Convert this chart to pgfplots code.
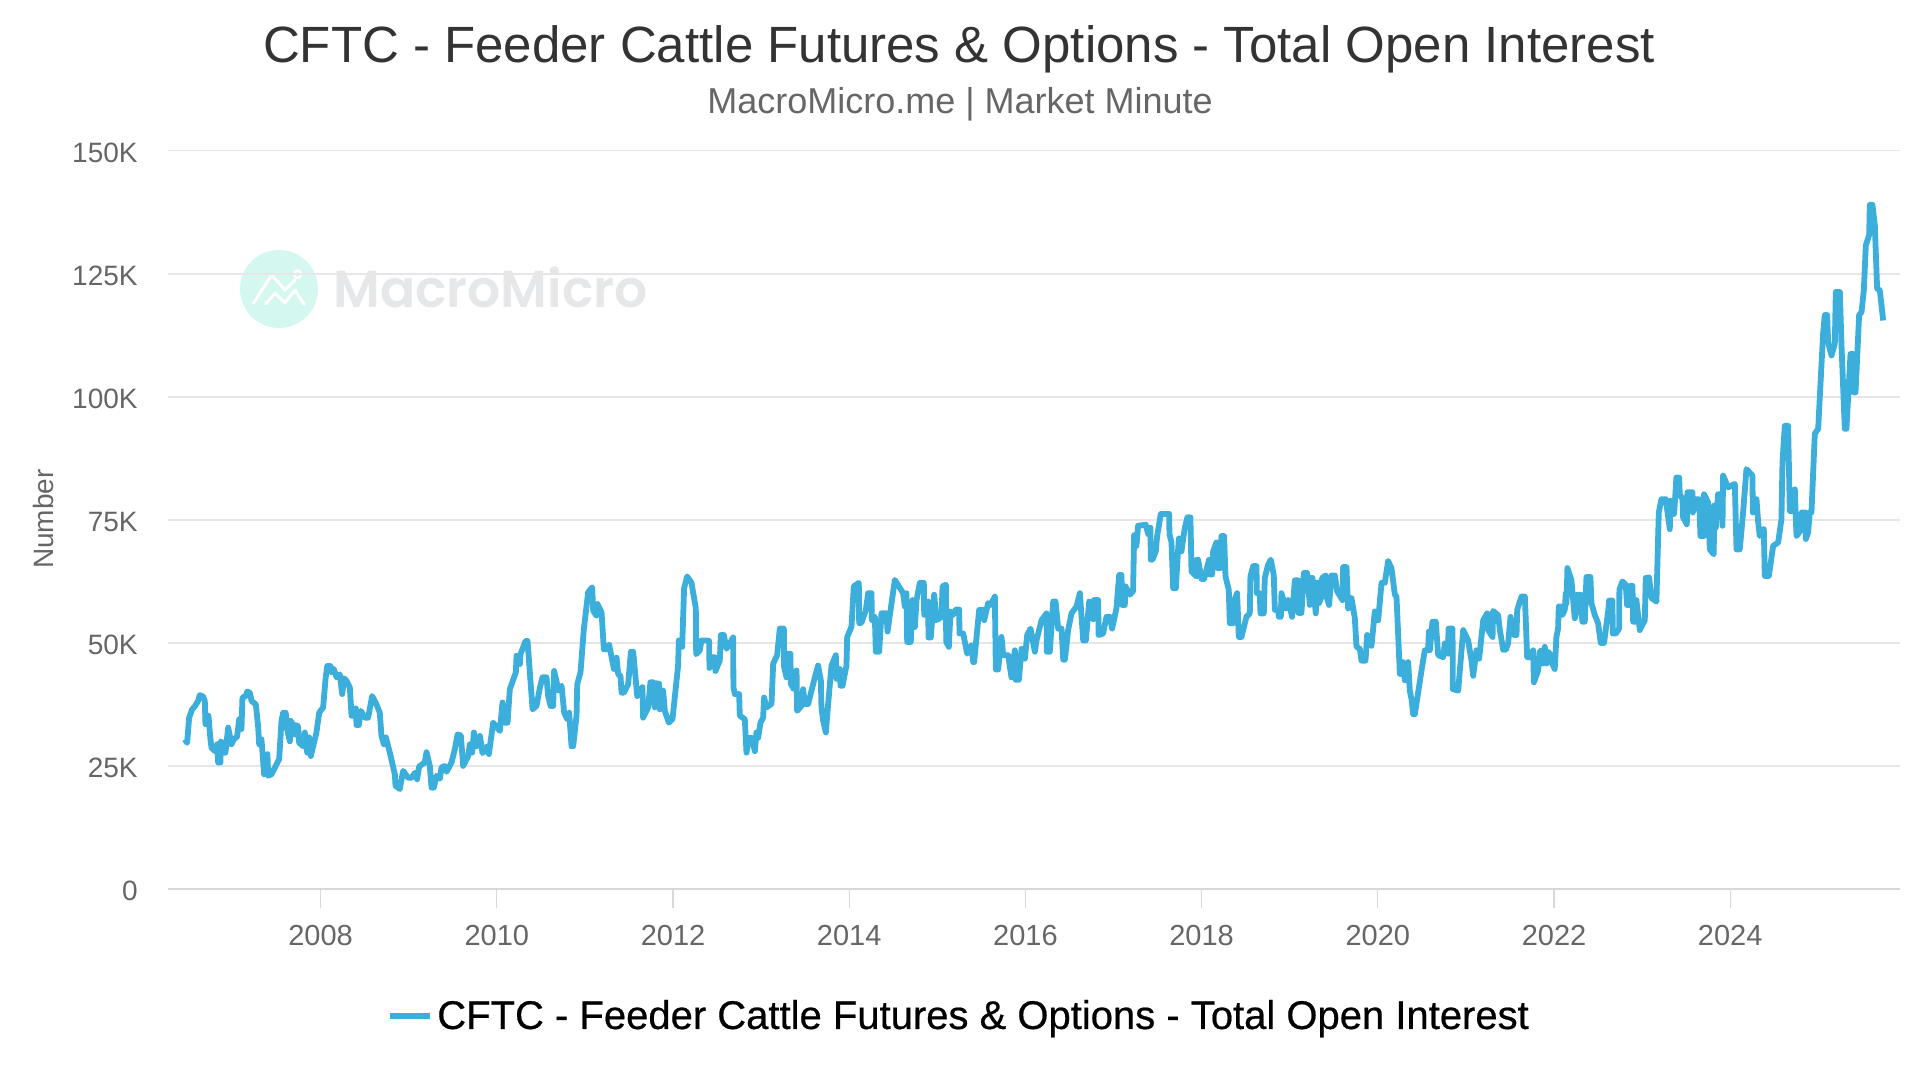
\documentclass[border=0pt]{standalone}
\usepackage{pgfplots}
\usepackage{pgfplotstable}
\usepackage{fontspec}
\pgfplotsset{compat=1.18}
\setmainfont{Liberation Sans}
\newfontfamily\wmfont{Poppins}[BoldFont=Poppins SemiBold]
\newfontfamily\legfont{Liberation Sans}[FakeBold=0.5]

\definecolor{series}{HTML}{3CAEDB}
\definecolor{gridc}{HTML}{E6E6E6}
\definecolor{axisc}{HTML}{D8D8D8}
\definecolor{labelc}{HTML}{666666}
\definecolor{titlec}{HTML}{333333}
\definecolor{wmcircle}{HTML}{D4F7F0}
\definecolor{wmtext}{HTML}{E6E7E9}

% year, open interest in thousands
\pgfplotstableread{
year val
2006.459 30.4
2006.485 29.7
2006.508 34.8
2006.542 36.5
2006.572 37.1
2006.610 38.2
2006.629 39.4
2006.667 39.1
2006.686 38.2
2006.693 33.5
2006.727 35.2
2006.750 30.4
2006.762 28.7
2006.799 28
2006.826 29.4
2006.837 25.7
2006.864 25.7
2006.867 30
2006.894 29.4
2006.902 27.7
2006.920 27.7
2006.951 32.8
2006.989 29.4
2007.015 30.4
2007.053 31
2007.076 34.5
2007.102 32.5
2007.113 38.9
2007.151 39.2
2007.166 40.1
2007.197 39.9
2007.216 38.2
2007.265 37.5
2007.291 33
2007.303 29.4
2007.329 30.4
2007.359 23.3
2007.397 27.4
2007.405 23
2007.443 23.3
2007.530 26.4
2007.556 34.2
2007.575 35.8
2007.605 35.8
2007.613 33
2007.651 30
2007.658 34.2
2007.689 33.3
2007.708 31.4
2007.726 33.3
2007.745 33
2007.757 29.7
2007.802 29
2007.821 31.8
2007.848 27.7
2007.870 30.8
2007.889 27
2007.953 31.8
2007.984 35.8
2008.029 36.9
2008.056 42.6
2008.075 45.3
2008.112 45.3
2008.124 44
2008.150 44.7
2008.181 43
2008.218 43.6
2008.245 39.6
2008.268 42.8
2008.294 42.3
2008.332 40.9
2008.351 35.2
2008.389 35.2
2008.400 36.7
2008.408 33.3
2008.434 33.3
2008.457 36.2
2008.502 34.8
2008.540 34.8
2008.585 39.2
2008.635 37.5
2008.672 35.8
2008.691 31.1
2008.718 29.4
2008.741 30.8
2008.786 27.7
2008.843 23.3
2008.850 21
2008.899 20.3
2008.937 24
2008.994 22.6
2009.032 22.6
2009.070 23.6
2009.096 22.3
2009.119 24.9
2009.183 25.7
2009.202 27.8
2009.240 25
2009.259 20.6
2009.285 20.6
2009.316 23
2009.354 22.4
2009.372 24.7
2009.410 25
2009.429 23.8
2009.486 25.7
2009.524 28.4
2009.554 31.4
2009.592 31.2
2009.618 25
2009.675 27
2009.694 29.4
2009.721 27.7
2009.740 31.8
2009.770 29
2009.808 31.1
2009.838 27.6
2009.891 29
2009.910 27.4
2009.959 33.8
2010.035 32.1
2010.065 37.9
2010.091 33.8
2010.122 33.8
2010.148 40.6
2010.216 44
2010.224 47.4
2010.262 45.7
2010.269 47.7
2010.326 50.4
2010.349 50.4
2010.406 36.5
2010.451 37.2
2010.489 40.9
2010.519 43
2010.564 43
2010.583 39.2
2010.610 37.2
2010.640 37.2
2010.651 44.3
2010.689 41.3
2010.697 40.3
2010.735 41.3
2010.765 35.8
2010.799 34.5
2010.822 35.8
2010.848 29
2010.867 29
2010.905 35.2
2010.913 41.6
2010.950 44
2010.988 52.8
2011.037 60.3
2011.083 61.3
2011.094 56.5
2011.132 55.5
2011.143 57.9
2011.189 56.2
2011.215 48.7
2011.253 48.7
2011.276 49.6
2011.329 44.7
2011.359 47
2011.378 43.6
2011.404 43.3
2011.416 39.9
2011.442 39.9
2011.491 41.6
2011.522 48.2
2011.548 48.2
2011.594 39.2
2011.653 41
2011.661 34.8
2011.718 36.9
2011.744 42
2011.774 42
2011.793 36.9
2011.805 41.8
2011.843 41.7
2011.850 36.5
2011.888 40.3
2011.907 36.2
2011.952 33.8
2011.994 34.5
2012.058 45.4
2012.066 50.5
2012.104 49.2
2012.126 61.1
2012.160 63.5
2012.210 62.2
2012.259 57
2012.263 47.7
2012.304 48.5
2012.323 50.5
2012.372 50.5
2012.410 50.4
2012.414 44.9
2012.437 47.1
2012.474 47.1
2012.482 44.3
2012.531 46.4
2012.543 51.6
2012.577 51.6
2012.607 48.8
2012.683 51.1
2012.686 41
2012.701 39.6
2012.751 39.6
2012.758 35.2
2012.815 34.5
2012.834 27.7
2012.864 30.7
2012.891 30.7
2012.929 28
2012.947 31.8
2012.966 30.7
2012.993 33.8
2013.023 34.8
2013.034 38.9
2013.061 36.9
2013.118 37.6
2013.137 45.8
2013.182 47.5
2013.212 52.9
2013.258 52.9
2013.261 45.1
2013.288 43
2013.299 47.8
2013.333 47.8
2013.337 41.7
2013.371 40.6
2013.402 44.4
2013.409 36.2
2013.458 37.2
2013.477 40.6
2013.496 37.6
2013.534 37.6
2013.610 43
2013.647 45.4
2013.678 42.4
2013.685 36.9
2013.704 34.2
2013.735 31.8
2013.761 37.6
2013.799 45.4
2013.848 47.5
2013.856 42.7
2013.893 44.7
2013.901 41.3
2013.924 41.3
2013.969 45.4
2013.977 51.2
2014.026 53.3
2014.052 61.5
2014.109 62.2
2014.113 54
2014.139 54.1
2014.189 56.7
2014.215 60.1
2014.253 60.1
2014.257 54.6
2014.291 55.3
2014.302 48.2
2014.340 48.2
2014.366 56
2014.423 56
2014.435 52.3
2014.518 62.8
2014.612 60.1
2014.631 57.4
2014.650 60.1
2014.658 50.2
2014.699 50.2
2014.718 58.7
2014.745 53.2
2014.764 58.7
2014.802 62.2
2014.847 62.2
2014.851 55.7
2014.896 58.4
2014.900 51.1
2014.926 51.1
2014.964 59.8
2014.991 54.6
2015.048 55.3
2015.059 61.5
2015.097 61.8
2015.101 50.2
2015.131 49.2
2015.150 56.4
2015.180 55.7
2015.210 56.8
2015.248 56.8
2015.252 51.9
2015.294 51.9
2015.339 47.8
2015.388 49.5
2015.407 46.1
2015.418 46.1
2015.475 56.7
2015.521 56.7
2015.532 54.6
2015.577 58.1
2015.604 57.7
2015.653 59.4
2015.664 44.6
2015.691 44.6
2015.729 51.2
2015.748 47.5
2015.804 47.5
2015.842 43
2015.880 48.5
2015.888 42.5
2015.926 42.5
2015.956 48.8
2015.994 46.8
2016.020 51.6
2016.058 52.9
2016.107 48.2
2016.126 50.5
2016.183 54.6
2016.240 56
2016.243 48.2
2016.277 48.2
2016.315 58.4
2016.342 58.4
2016.372 52.9
2016.410 52.9
2016.429 46.6
2016.448 46.6
2016.485 52.6
2016.523 56
2016.580 57.4
2016.618 60.1
2016.656 50.5
2016.686 50.5
2016.724 58.4
2016.769 54.8
2016.777 58.7
2016.826 58.7
2016.830 51.6
2016.882 51.9
2016.920 55.3
2016.958 55.3
2016.984 52.9
2017.033 57
2017.064 63.8
2017.090 63.8
2017.098 57.7
2017.128 57.7
2017.135 61.5
2017.185 59.8
2017.222 60.5
2017.234 71.9
2017.260 69.7
2017.279 73.8
2017.366 74
2017.393 72.1
2017.419 73.4
2017.423 66.9
2017.442 66.9
2017.480 68.6
2017.495 71.7
2017.537 76.2
2017.631 76.2
2017.635 72.1
2017.658 70.4
2017.677 61.1
2017.707 61.1
2017.741 71.2
2017.764 71.2
2017.771 68.6
2017.809 73.4
2017.839 75.5
2017.873 75.5
2017.885 64.5
2017.941 63.5
2017.945 66.9
2017.960 66.9
2017.998 63
2018.028 63
2018.085 66.9
2018.089 63.9
2018.119 63.9
2018.131 68.6
2018.168 70.4
2018.180 65.2
2018.214 65.2
2018.225 71.7
2018.255 71.7
2018.271 63.5
2018.308 60.8
2018.320 54
2018.358 54
2018.365 58.4
2018.403 60.1
2018.422 51.2
2018.452 51.2
2018.509 55.3
2018.547 56
2018.554 63.5
2018.585 65.6
2018.623 65.6
2018.626 60.1
2018.660 60.1
2018.668 56
2018.706 56
2018.717 63.2
2018.755 65.9
2018.785 66.9
2018.819 63.8
2018.831 56.7
2018.868 56.7
2018.876 55.3
2018.899 55.3
2018.906 60.1
2018.956 57
2018.982 58.7
2019.027 55.3
2019.058 62.7
2019.096 62.7
2019.099 56.1
2019.133 56.1
2019.160 64.2
2019.198 64.2
2019.228 57.7
2019.236 63.2
2019.258 63.2
2019.296 56
2019.304 62.2
2019.330 62.2
2019.334 58.1
2019.360 59.4
2019.368 63.2
2019.410 63.7
2019.417 59.4
2019.447 57.7
2019.474 63.7
2019.512 63.7
2019.538 60.5
2019.599 58.7
2019.606 65.4
2019.644 65.4
2019.663 57
2019.701 59.1
2019.739 55
2019.758 49.2
2019.796 48.8
2019.814 46.4
2019.860 46.4
2019.879 51.6
2019.928 49.4
2019.966 56.4
2020.004 54.6
2020.042 62.2
2020.079 62.2
2020.117 66.6
2020.155 65.2
2020.193 59.8
2020.212 59.4
2020.250 43.7
2020.280 43.7
2020.287 46.1
2020.306 42.4
2020.344 46.1
2020.363 40.3
2020.382 38.6
2020.401 35.5
2020.420 35.5
2020.496 44.4
2020.533 48.5
2020.571 48.5
2020.579 52.3
2020.590 48.5
2020.620 54.3
2020.658 54.3
2020.685 47.5
2020.742 47.1
2020.760 49.9
2020.798 47.8
2020.802 52.9
2020.848 52.9
2020.851 40.6
2020.912 40.3
2020.969 52.6
2021.025 50.5
2021.063 46.4
2021.082 43.3
2021.120 48.5
2021.150 46.8
2021.196 54.6
2021.241 56
2021.252 52.6
2021.302 51.2
2021.309 56.5
2021.366 55.6
2021.385 52.6
2021.423 48.6
2021.453 48.6
2021.479 49.9
2021.506 55.3
2021.548 51.6
2021.574 51.6
2021.582 56.7
2021.631 59.4
2021.669 59.4
2021.695 47.1
2021.725 47.1
2021.763 48.5
2021.771 42
2021.820 44.4
2021.838 48.2
2021.857 48.5
2021.876 45.8
2021.895 49.2
2021.914 45.8
2021.933 48.2
2021.963 47.5
2021.970 46.1
2022.008 44.7
2022.027 51.2
2022.046 52.9
2022.054 57.4
2022.084 57.4
2022.095 55.7
2022.122 56.7
2022.133 60.1
2022.141 58
2022.152 65.2
2022.197 62.8
2022.235 55
2022.254 56.3
2022.266 59.8
2022.300 59.8
2022.322 54.3
2022.349 54.3
2022.368 63.4
2022.413 63.4
2022.425 58
2022.462 55.7
2022.500 54
2022.530 50
2022.568 50
2022.614 56.4
2022.625 58.6
2022.663 58.6
2022.667 51.9
2022.701 51.9
2022.739 52.9
2022.742 60.8
2022.776 62.5
2022.814 61.8
2022.829 57.7
2022.852 57.7
2022.867 61.6
2022.890 61.6
2022.898 54.3
2022.928 54.3
2022.935 58.7
2022.973 52.6
2023.030 54.6
2023.041 63.2
2023.079 63.3
2023.106 59.1
2023.162 58.4
2023.189 76.5
2023.219 79.2
2023.268 79.2
2023.314 73.1
2023.321 78.9
2023.333 76.2
2023.363 76.2
2023.389 83.6
2023.420 83.6
2023.427 80.2
2023.458 79.2
2023.465 75.5
2023.507 74.1
2023.514 80.6
2023.571 80.6
2023.575 76.5
2023.616 79.2
2023.647 79.2
2023.662 71.7
2023.700 71.7
2023.703 80.2
2023.749 78.5
2023.768 69
2023.813 68
2023.817 77.9
2023.836 73.4
2023.862 80.2
2023.908 80.2
2023.912 73.8
2023.919 84
2023.976 81.6
2024.052 82.3
2024.071 69
2024.108 69
2024.146 76.5
2024.184 85.3
2024.252 84
2024.256 76.5
2024.298 79.2
2024.317 74.5
2024.335 71.7
2024.381 73.1
2024.392 63.6
2024.438 63.6
2024.487 69.7
2024.544 70.4
2024.581 75.1
2024.593 86.7
2024.619 94.1
2024.657 94.1
2024.676 76.8
2024.703 76.8
2024.733 81.2
2024.752 71.7
2024.808 73.1
2024.812 76.5
2024.854 76.5
2024.858 71.1
2024.884 72.4
2024.903 76.5
2024.922 76.5
2024.960 92.5
2024.998 93.5
2025.054 112.8
2025.073 116.6
2025.100 116.6
2025.111 111.1
2025.149 108.4
2025.187 110.8
2025.198 121.3
2025.244 121.3
2025.263 110.4
2025.300 93.5
2025.319 93.5
2025.365 108.7
2025.395 108.7
2025.399 100.9
2025.422 100.9
2025.463 116.6
2025.490 117.2
2025.516 121.6
2025.539 130.8
2025.577 132.9
2025.584 139
2025.614 139
2025.641 134.9
2025.667 122
2025.698 121.6
2025.736 115.5
}\oitable

\begin{document}
\begin{tikzpicture}
% page frame: 1 px of the reference = 0.5pt
\useasboundingbox (-84pt,-95.5pt) rectangle (876pt,444.5pt);

% watermark, under the grid
\fill[wmcircle] (55.5pt,300pt) circle (19.5pt);
\draw[white, line width=1.5pt, line cap=round, line join=round]
  (42.67pt,292.83pt) -- (51.83pt,307pt) -- (58.5pt,299.5pt) -- (63.5pt,304.5pt);
\draw[white, line width=1.5pt, line cap=round, line join=round]
  (48.83pt,292.5pt) -- (53.5pt,297.83pt) -- (58.5pt,293.17pt) -- (63.5pt,299.5pt) -- (68pt,292.5pt);
\draw[white, line width=1.2pt] (64.83pt,307.33pt) circle (1.8pt);
\node[anchor=base west, inner sep=0pt, text=wmtext]
  at (82.5pt,290.5pt) {\wmfont\bfseries\fontsize{26}{26}\selectfont MacroMicro};

\begin{axis}[
  scale only axis,
  width=866pt, height=369.15pt,
  xmin=2006.268, xmax=2025.927,
  ymin=0, ymax=150,
  axis x line*=bottom,
  axis y line=none,
  axis line style={axisc, line width=1pt, -},
  xtick={2008,2010,...,2024},
  xticklabel style={/pgf/number format/1000 sep={}, /pgf/number format/assume math mode=true,
    font=\fontsize{14.5}{16}\selectfont, text=labelc, yshift=-5pt},
  x tick style={axisc, line width=0.6pt},
  major tick length=9.5pt,
  tick align=outside,
  legend style={at={(axis description cs:0.4573,-0.172)}, anchor=center, draw=none, fill=none,
    font=\legfont\fontsize{20}{24}\selectfont, inner sep=0pt, outer sep=0pt},
  legend image code/.code={\draw[series, line width=3pt] (0pt,0pt) -- (20pt,0pt);},
  legend cell align=left,
  clip=false,
]
% horizontal grid and y labels
\pgfplotsinvokeforeach{25,50,75,100,125,150}{
  \addplot[gridc, line width=0.8pt, forget plot] coordinates {(2006.268,#1) (2025.927,#1)};
}
\addplot[series, line width=2.9pt, line join=round] table[x=year, y=val] {\oitable};
\addlegendentry{CFTC - Feeder Cattle Futures \& Options - Total Open Interest}
\foreach \v/\t in {0/0,25/25K,50/50K,75/75K,100/100K,125/125K,150/150K}{
  \edef\tmp{\noexpand\node[anchor=east, inner sep=0pt, text=labelc, font=\noexpand\fontsize{14}{16}\noexpand\selectfont]
    at (axis cs:2006.268,\v) [xshift=-15pt, yshift=-1pt] {\t};}
  \tmp
}
\end{axis}

\node[text=titlec, font=\fontsize{25.5}{28}\selectfont] at (395.5pt,420pt)
  {CFTC - Feeder Cattle Futures \& Options - Total Open Interest};
\node[text=labelc, font=\fontsize{18}{22}\selectfont] at (396pt,392.3pt)
  {MacroMicro.me | Market Minute};
\node[text=labelc, rotate=90, font=\fontsize{14}{16}\selectfont] at (-62.5pt,185pt) {Number};
\end{tikzpicture}
\end{document}
